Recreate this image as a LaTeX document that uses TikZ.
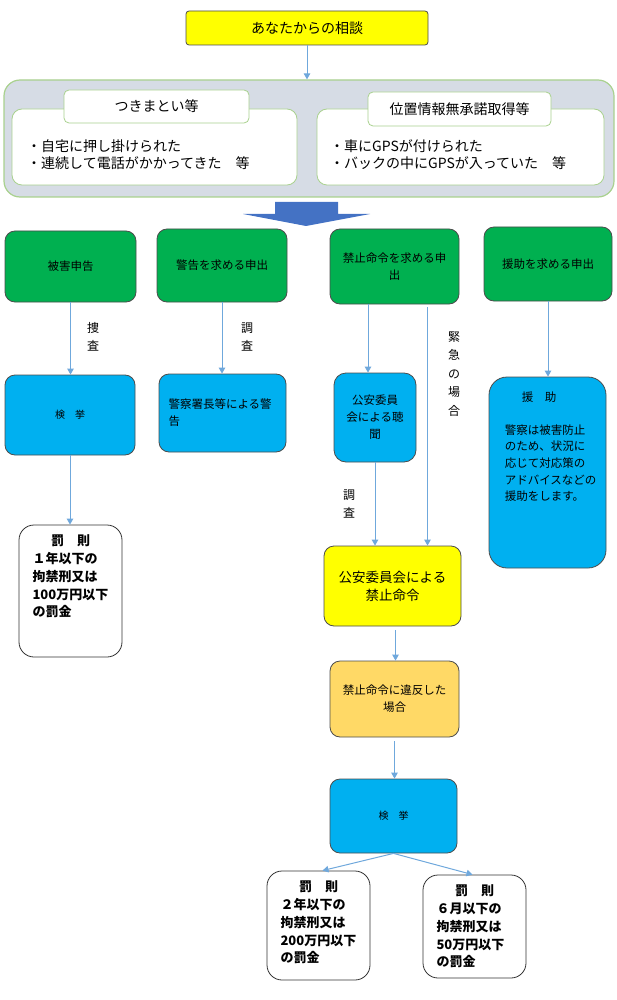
\documentclass[tikz,border=0pt]{standalone}
\usepackage{fontspec}
\setmainfont{Noto Sans CJK JP}
\usetikzlibrary{arrows.meta,positioning}

\definecolor{topyellow}{HTML}{FFFF00}
\definecolor{boxgreen}{HTML}{00B050}
\definecolor{boxblue}{HTML}{00B0F0}
\definecolor{boxorange}{HTML}{FFD966}
\definecolor{panelgray}{HTML}{D6DCE5}
\definecolor{panelgreen}{HTML}{A9D18E}
\definecolor{linkblue}{HTML}{6FA8DC}
\definecolor{bigarrow}{HTML}{4472C4}

\tikzset{
  box/.style={draw=black!70, line width=0.8pt, rounded corners=10pt, inner sep=0pt, align=center, font=\fontsize{11.5}{17}\selectfont},
  greenbox/.style={box, fill=boxgreen},
  bluebox/.style={box, fill=boxblue},
  penaltybox/.style={box, draw=black!80, fill=white, rounded corners=15pt},
  casebox/.style={draw=panelgreen, line width=0.8pt, fill=white, rounded corners=10pt, inner sep=0pt},
  tabbox/.style={casebox, rounded corners=5pt, font=\fontsize{14}{18}\selectfont},
  casetext/.style={align=left, inner sep=0pt, font=\fontsize{14}{17.5}\selectfont},
  penaltytext/.style={anchor=north, align=left, text width=76pt, inner sep=0pt, font=\bfseries\fontsize{13}{17.8}\selectfont},
  vlabel/.style={align=center, inner sep=0pt, font=\fontsize{12}{18}\selectfont},
  link/.style={draw=linkblue, line width=1pt, -{Triangle[length=6pt,width=6.5pt]}}
}

\begin{document}
\begin{tikzpicture}[x=1pt,y=-1pt]
%%%%% START %%%%%
\useasboundingbox (0,0) rectangle (616,1000);

\node[box, fill=topyellow, rounded corners=3pt, minimum width=242pt, minimum height=34pt, font=\fontsize{14}{18}\selectfont] (consult) at (307,28) {あなたからの相談};

\node[draw=panelgreen, fill=panelgray, line width=1.2pt, rounded corners=16pt, minimum width=610pt, minimum height=117pt, inner sep=0pt] (panel) at (309,138.5) {};
\node[casebox, minimum width=285pt, minimum height=76pt] (stalkcase) at (154.5,147) {};
\node[casebox, minimum width=287pt, minimum height=76pt] (gpscase) at (460.5,147) {};
\node[tabbox, minimum width=185pt, minimum height=33pt] (stalktab) at (156.5,106.5) {つきまとい等};
\node[tabbox, minimum width=183pt, minimum height=34pt] (gpstab) at (459.5,109) {位置情報無承諾取得等};
\node[casetext, anchor=west] (stalktext) at (27,154.5) {・自宅に押し掛けられた\\・連続して電話がかかってきた　等};
\node[casetext, anchor=west] (gpstext) at (330,154.5) {・車にGPSが付けられた\\・バックの中にGPSが入っていた　等};

\draw[link] (consult.south) -- (consult.south |- panel.north);

% big arrow
\fill[bigarrow] (275,202) -- (338,202) -- (338,214) -- (370,214) -- (306,226) -- (243,214) -- (275,214) -- cycle;

% requests
\node[greenbox, minimum width=131pt, minimum height=71pt] (damage) at (70.5,266.5) {被害申告};
\node[greenbox, minimum width=130pt, minimum height=73pt] (warnreq) at (222,265.5) {警告を求める申出};
\node[greenbox, minimum width=129pt, minimum height=75pt] (banreq) at (394.5,266.5) {禁止命令を求める申\\出};
\node[greenbox, minimum width=128pt, minimum height=74pt] (aidreq) at (548,264) {援助を求める申出};

% second row
\node[bluebox, minimum width=130pt, minimum height=80pt, font=\fontsize{10}{14}\selectfont] (arrestA) at (70,415) {検　挙};
\node[bluebox, minimum width=127pt, minimum height=78pt, text width=108pt, align=left] (warning) at (222.5,413) {警察署長等による警\\告};
\node[bluebox, minimum width=82pt, minimum height=89pt, rounded corners=12pt] (hearing) at (375,417.5) {公安委員\\会による聴\\聞};
\node[bluebox, minimum width=117pt, minimum height=191pt, rounded corners=18pt] (aid) at (547.5,472.5) {};
\node[anchor=north west, align=left, inner sep=0pt, font=\fontsize{11.5}{16.7}\selectfont] (aidtext) at ([xshift=16pt, yshift=-15pt]aid.north west) {\hspace{17pt}援　助\\[16pt]警察は被害防止\\のため、状況に\\応じて対応策の\\アドバイスなどの\\援助をします。};

\draw[link] (damage.south) -- (damage.south |- arrestA.north);
\draw[link] (warnreq.south) -- (warnreq.south |- warning.north);
\draw[link] ([xshift=-26.5pt]banreq.south) -- ([xshift=-26.5pt]banreq.south |- hearing.north);
\draw[link] (aidreq.south) -- (aidreq.south |- aid.north);
\node[vlabel] (searchlbl) at (93,337) {捜\\査};
\node[vlabel] (probeA) at (247,337) {調\\査};
\node[vlabel, font=\fontsize{12}{18.5}\selectfont] (urgent) at (454,374) {緊\\急\\の\\場\\合};

% penalty for damage report
\node[penaltybox, minimum width=103pt, minimum height=132pt] (penaltyA) at (70.5,591) {};
\node[penaltytext] (penaltyAtext) at ([yshift=-10pt]penaltyA.north) {\makebox[76pt]{罰　則}\\１年以下の\\拘禁刑又は\\100万円以下\\の罰金};
\draw[link] (arrestA.south) -- (arrestA.south |- penaltyA.north);

% ban order chain
\node[box, fill=topyellow, minimum width=137pt, minimum height=80pt, font=\fontsize{13.5}{18}\selectfont] (order) at (392.5,586) {公安委員会による\\禁止命令};
\node[box, fill=boxorange, minimum width=129pt, minimum height=76pt] (breach) at (394.5,699) {禁止命令に違反した\\場合};
\node[bluebox, minimum width=127pt, minimum height=74pt, font=\fontsize{10}{14}\selectfont] (arrestB) at (393.5,816) {検　挙};

\draw[link] (hearing.south) -- (hearing.south |- order.north);
\node[vlabel] (probeB) at (349,504) {調\\査};
\draw[link, shorten <=3pt] ([xshift=33pt]banreq.south) -- ([xshift=33pt]banreq.south |- order.north);
\draw[link, shorten <=4pt] ([xshift=3pt]order.south) -- ([xshift=3pt]order.south |- breach.north);
\draw[link, shorten <=4pt] (breach.south) -- (breach.south |- arrestB.north);

% penalties for breach
\node[penaltybox, minimum width=103pt, minimum height=109pt] (penaltyB) at (318.5,925.5) {};
\node[penaltytext] (penaltyBtext) at ([yshift=-10pt]penaltyB.north) {\makebox[76pt]{罰　則}\\２年以下の\\拘禁刑又は\\200万円以下\\の罰金};
\node[penaltybox, minimum width=103pt, minimum height=103pt] (penaltyC) at (474.5,926.5) {};
\node[penaltytext] (penaltyCtext) at ([yshift=-10pt]penaltyC.north) {\makebox[76pt]{罰　則}\\６月以下の\\拘禁刑又は\\50万円以下\\の罰金};

\draw[link] (arrestB.south) -- ([xshift=4pt]penaltyB.north);
\draw[link] (arrestB.south) -- ([xshift=-2pt]penaltyC.north);

%%%%% END %%%%%
\end{tikzpicture}
\end{document}
